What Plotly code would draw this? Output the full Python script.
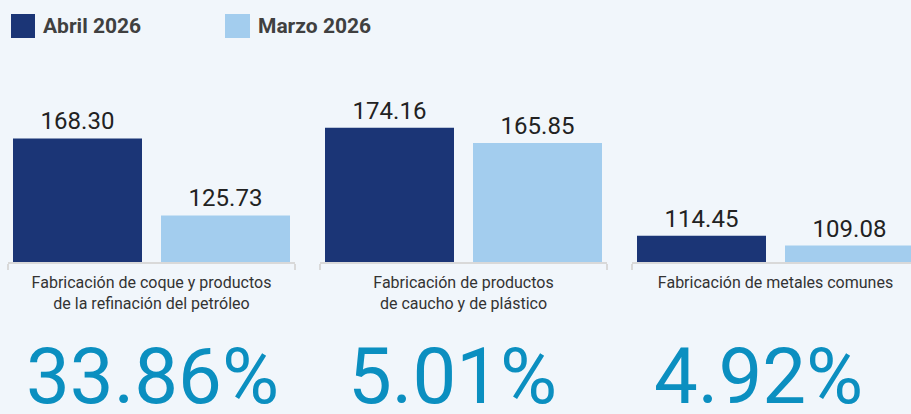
import plotly.graph_objects as go

# ---- data ----
categories = [
    "Fabricación de coque y productos<br>de la refinación del petróleo",
    "Fabricación de productos<br>de caucho y de plástico",
    "Fabricación de metales comunes",
]
series_names = ["Abril 2026", "Marzo 2026"]
abril_values = [168.30, 174.16, 114.45]
marzo_values = [125.73, 165.85, 109.08]

# ---- style ----
BG = "#f1f6fb"
DARK = "#1b3576"
LIGHT = "#a3cdee"
PCT_COLOR = "#0b8fc0"
FONT = "Roboto"
W, H = 911, 414

def px_x(p):
    return p / W

def px_y(p):
    return (H - p) / H

fig = go.Figure()

spans = [(8, 295), (320, 607), (632, 911)]
full_w = 287.0
y_bottom, y_top = 262, 60
scale = 1.809  # px per unit
y_range = [100, 100 + (y_bottom - y_top) / scale]

bar_w = 129 / full_w
off_a = -138.5 / full_w
off_m = 9.5 / full_w
centers = [152, 452, 758]

for i, cat in enumerate(categories):
    ax = "" if i == 0 else str(i + 1)
    fig.add_trace(go.Bar(
        x=[cat], y=[abril_values[i]], name=series_names[0],
        marker=dict(color=DARK, line=dict(width=0)),
        width=[bar_w], offset=[off_a],
        texttemplate="%{y:.2f}", textposition="outside",
        textfont=dict(family=FONT, size=24, color="#222222"),
        xaxis="x" + ax, yaxis="y" + ax, showlegend=False,
    ))
    fig.add_trace(go.Bar(
        x=[cat], y=[marzo_values[i]], name=series_names[1],
        marker=dict(color=LIGHT, line=dict(width=0)),
        width=[bar_w], offset=[off_m],
        texttemplate="%{y:.2f}", textposition="outside",
        textfont=dict(family=FONT, size=24, color="#222222"),
        xaxis="x" + ax, yaxis="y" + ax, showlegend=False,
    ))
    x0, x1 = spans[i]
    rng_hi = -0.5 + (x1 - x0) / full_w
    fig.layout["xaxis" + ax] = dict(
        domain=[px_x(x0), px_x(x1)], range=[-0.5, rng_hi],
        type="category", tickson="boundaries", ticks="outside", ticklen=6,
        tickwidth=2, tickcolor="#d9d9d9", showline=True, linecolor="#d9d9d9",
        linewidth=2, showgrid=False, zeroline=False, anchor="y" + ax,
        tickfont=dict(family=FONT, size=16, color="#333333"),
        ticklabelstandoff=5, fixedrange=True,
    )
    fig.layout["yaxis" + ax] = dict(
        domain=[px_y(y_bottom), px_y(y_top)], range=y_range, visible=False,
        anchor="x" + ax, fixedrange=True,
    )
    pct = (abril_values[i] / marzo_values[i] - 1) * 100
    fig.add_annotation(
        x=px_x(centers[i]), y=px_y(376), xref="paper", yref="paper",
        text=f"{pct:.2f}%", showarrow=False, xanchor="center", yanchor="middle",
        font=dict(family=FONT, size=78, color=PCT_COLOR),
    )

legend_items = [(11, 35, series_names[0], DARK), (225, 250, series_names[1], LIGHT)]
for x0, x1, name, col in legend_items:
    fig.add_shape(type="rect", xref="paper", yref="paper",
                  x0=px_x(x0), x1=px_x(x1), y0=px_y(38), y1=px_y(14),
                  fillcolor=col, line=dict(width=0))
    fig.add_annotation(x=px_x(x1 + 6), y=px_y(26), xref="paper", yref="paper",
                       text=name, showarrow=False, xanchor="left", yanchor="middle",
                       font=dict(family=FONT, size=21, color="#404040", weight="bold"))

fig.update_layout(
    width=W, height=H, margin=dict(l=0, r=0, t=0, b=0),
    paper_bgcolor=BG, plot_bgcolor=BG, barmode="group",
    showlegend=False, font=dict(family=FONT),
)

fig.write_html(
    "out.html",
    config={"displayModeBar": False},
    post_script="document.body.style.margin='0';document.body.style.overflow='hidden';",
)
